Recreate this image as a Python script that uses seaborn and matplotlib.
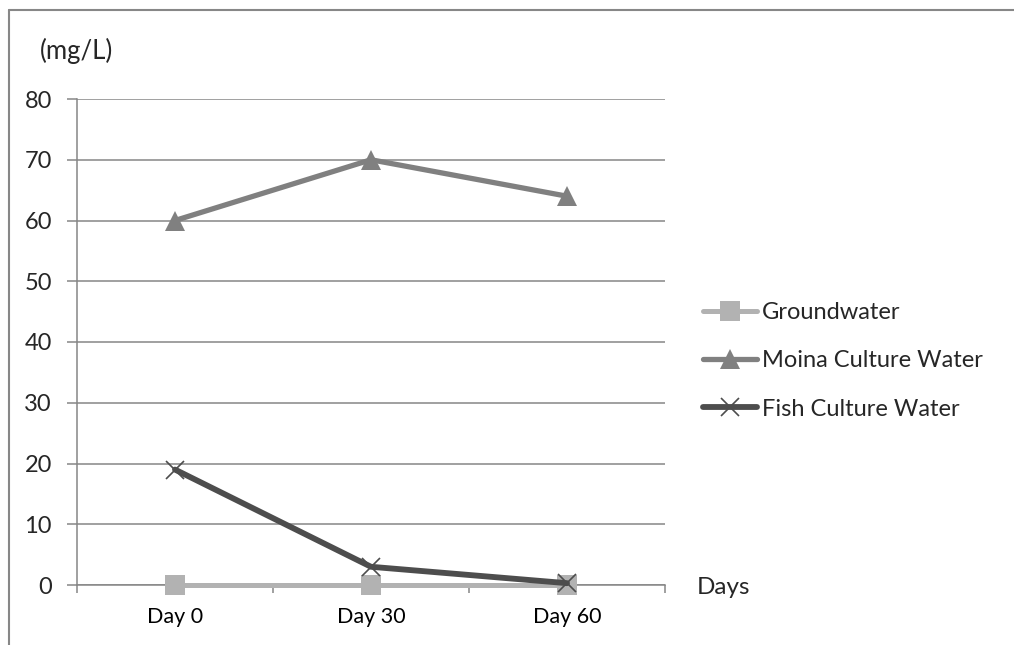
import matplotlib
matplotlib.use("Agg")
import matplotlib.pyplot as plt
from matplotlib.lines import Line2D
import seaborn as sns
import pandas as pd

days = ["Day 0", "Day 30", "Day 60"]
groundwater = [0, 0, 0]
moina = [60, 70, 64]
fish = [19, 3, 0.3]
series_names = ["Groundwater", "Moina Culture Water", "Fish Culture Water"]
y_ticks = [0, 10, 20, 30, 40, 50, 60, 70, 80]

sns.set_theme(style="white")
plt.rcParams["font.family"] = ["Lato", "DejaVu Sans"]

fig = plt.figure(figsize=(10.14, 6.45), dpi=100)
W, H = 1014, 645
ax = fig.add_axes([77 / W, 1 - 585 / H, (665 - 77) / W, (585 - 99) / H])

pos = [0, 1, 2]
df = pd.DataFrame({"x": pos * 3,
                   "y": groundwater + moina + fish,
                   "series": [s for s in series_names for _ in pos]})

colors = {"Groundwater": "#b2b2b2", "Moina Culture Water": "#808080", "Fish Culture Water": "#4d4d4d"}
markers = {"Groundwater": "s", "Moina Culture Water": "^", "Fish Culture Water": "x"}
lws = {"Groundwater": 3.6, "Moina Culture Water": 3.8, "Fish Culture Water": 4.2}
msizes = {"Groundwater": 14, "Moina Culture Water": 15, "Fish Culture Water": 13}

for i, name in enumerate(series_names):
    sub = df[df["series"] == name]
    sns.lineplot(data=sub, x="x", y="y", ax=ax, color=colors[name], linewidth=lws[name],
                 marker=markers[name], markersize=msizes[name],
                 markeredgewidth=1.2 if name == "Fish Culture Water" else 0,
                 markeredgecolor=colors[name], markerfacecolor=colors[name],
                 label=name, zorder=3 + i, clip_on=False)

ax.set_xlim(-0.5, 2.5)
ax.set_ylim(0, 80)
ax.set_yticks(y_ticks)
ax.set_xticks([-0.5, 0.5, 1.5, 2.5])
ax.set_xticklabels([])
ax.set_xticks(pos, minor=True)
ax.set_xticklabels(days, minor=True, fontsize=15.5)
ax.tick_params(axis="x", which="major", length=6, width=1.1, color="#868686", direction="out", bottom=True)
ax.tick_params(axis="x", which="minor", length=0, pad=16, colors="black")
ax.tick_params(axis="y", length=7, width=1.1, color="#868686", direction="out", left=True,
               labelsize=17, pad=11)
ax.yaxis.grid(True, color="#868686", linewidth=1.1)
ax.xaxis.grid(False)
for s in ["top", "right"]:
    ax.spines[s].set_visible(False)
for s in ["left", "bottom"]:
    ax.spines[s].set_color("#868686")
    ax.spines[s].set_linewidth(1.1)
ax.set_xlabel("")
ax.set_ylabel("")

ax.legend(loc="center left", bbox_to_anchor=(703 / W, 1 - 361 / H), bbox_transform=fig.transFigure,
          frameon=False, fontsize=17, handlelength=2.3, handletextpad=0.2, labelspacing=1.15,
          borderaxespad=0, borderpad=0)

fig.text(40 / W, 1 - 51 / H, "(mg/L)", fontsize=18.5, va="center", ha="left")
fig.text(697 / W, 1 - 588 / H, "Days", fontsize=17.5, va="center", ha="left")

fig.add_artist(Line2D([8.5 / W, 8.5 / W], [0, 1 - 9.5 / H], color="#878787", linewidth=1.5,
                      transform=fig.transFigure))
fig.add_artist(Line2D([8.5 / W, 1], [1 - 9.5 / H, 1 - 9.5 / H], color="#878787", linewidth=1.5,
                      transform=fig.transFigure))

fig.savefig("out.png", dpi=100, facecolor="white")
